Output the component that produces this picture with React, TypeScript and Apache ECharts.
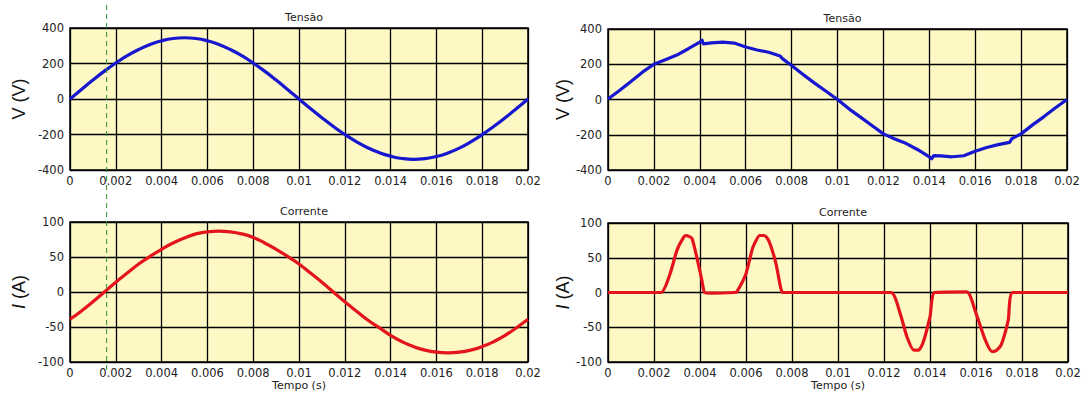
import React, { useEffect, useRef } from "react";
import * as echarts from "echarts";

// time samples for the left panels (s)
const tLeft = [
  0, 0.0005, 0.001, 0.0015, 0.002, 0.0025, 0.003, 0.0035, 0.004, 0.0045,
  0.005, 0.0055, 0.006, 0.0065, 0.007, 0.0075, 0.008, 0.0085, 0.009, 0.0095,
  0.01, 0.0105, 0.011, 0.0115, 0.012, 0.0125, 0.013, 0.0135, 0.014, 0.0145,
  0.015, 0.0155, 0.016, 0.0165, 0.017, 0.0175, 0.018, 0.0185, 0.019, 0.0195, 0.02,
];
// left: sinusoidal voltage (V)
const vLeft = [
  0, 54, 107, 157, 203, 244, 279, 307, 328, 341,
  345, 341, 328, 307, 279, 244, 203, 157, 107, 54,
  0, -54, -106, -155, -200, -240, -275, -302, -322, -335,
  -340, -336, -324, -304, -277, -242, -201, -155, -106, -54, 0,
];
// left: current (A)
const iLeft = [
  -39, -27, -14, 0, 14, 27, 40, 51, 61, 70,
  77, 83, 86, 87, 86, 83, 78, 70, 61, 51,
  40, 27, 14, 0, -14, -27, -40, -51, -62, -71,
  -78, -83, -86, -87, -86, -83, -78, -71, -62, -51, -39,
];
// right: distorted voltage [t, V]
const vRight = [
  [0, 3], [0.0005, 51], [0.001, 102], [0.0015, 155], [0.002, 200], [0.0025, 226],
  [0.003, 252], [0.0035, 288], [0.004, 326], [0.0041, 336], [0.00415, 316],
  [0.0045, 321], [0.005, 325], [0.0055, 320], [0.006, 298], [0.0065, 281],
  [0.007, 268], [0.0075, 247], [0.0076, 232], [0.008, 193], [0.0085, 142],
  [0.009, 93], [0.0095, 47], [0.01, 0], [0.0105, -53], [0.011, -100],
  [0.0115, -148], [0.012, -195], [0.0125, -224], [0.013, -250], [0.0135, -285],
  [0.014, -325], [0.0141, -336], [0.0142, -318], [0.0145, -320], [0.015, -325],
  [0.0155, -319], [0.016, -294], [0.0165, -272], [0.017, -256], [0.0175, -243],
  [0.0176, -222], [0.018, -195], [0.0185, -144], [0.019, -97], [0.0195, -47], [0.02, 0],
];
// right: pulsed current [t, A]
const iRight = [
  [0, 0], [0.0023, 0], [0.0027, 27], [0.003, 61], [0.0033, 80], [0.0034, 82],
  [0.0035, 81], [0.00365, 78], [0.00386, 51], [0.00408, 18], [0.0042, 0],
  [0.0045, -1], [0.0055, 0], [0.0056, 1], [0.006, 27], [0.0063, 65], [0.0066, 82],
  [0.0068, 82], [0.007, 74], [0.0073, 42], [0.0075, 8], [0.0076, 0], [0.0123, 0],
  [0.0127, -30], [0.013, -64], [0.0133, -83], [0.0135, -83], [0.0137, -72],
  [0.014, -35], [0.0142, 0], [0.0156, 1], [0.016, -30], [0.0164, -68],
  [0.0167, -85], [0.0169, -83], [0.0171, -75], [0.0174, -40], [0.0176, 0], [0.02, 0],
];
const markerTime = 0.0016;
const titles = ["Tensão", "Corrente", "Tensão", "Corrente"];
const xAxisName = "Tempo (s)";

const BG = "#fdf8c4";
const FONT = "'DejaVu Sans', Verdana, sans-serif";
const NAMEFONT = "Arial, 'Liberation Sans', sans-serif";

export default function App() {
  const ref = useRef<HTMLDivElement>(null);
  useEffect(() => {
    const chart = echarts.init(ref.current!, null, { renderer: "svg" });
    const grids = [
      { left: 70, top: 28, width: 458, height: 142 },
      { left: 70, top: 222, width: 458, height: 140 },
      { left: 608, top: 29, width: 459, height: 141 },
      { left: 608, top: 223, width: 460, height: 139 },
    ];
    const xAxes = grids.map((_, i) => ({
      type: "value",
      gridIndex: i,
      min: 0,
      max: 0.02,
      interval: 0.002,
      name: i % 2 === 1 ? xAxisName : "",
      nameLocation: "middle",
      nameGap: 17,
      nameTextStyle: { fontSize: 11, color: "#222", fontFamily: FONT },
      axisLine: { show: false },
      axisTick: { show: false },
      axisLabel: {
        fontSize: 11.5,
        color: "#222",
        fontFamily: FONT,
        margin: 5,
        formatter: (v: number) => String(+v.toFixed(3)),
      },
      splitLine: { show: true, lineStyle: { color: "#000", width: 1.3 } },
    }));
    const yAxes = grids.map((_, i) => {
      const isV = i % 2 === 0;
      return {
        type: "value",
        gridIndex: i,
        min: isV ? -400 : -100,
        max: isV ? 400 : 100,
        interval: isV ? 200 : 50,
        name: isV ? "V (V)" : "{i|I} (A)",
        nameLocation: "middle",
        nameGap: i < 2 ? 42 : 30,
        nameRotate: 90,
        nameTextStyle: {
          fontSize: 18,
          color: "#111",
          fontFamily: NAMEFONT,
          rich: { i: { fontSize: 18, fontStyle: "italic", color: "#111", fontFamily: NAMEFONT } },
        },
        axisLine: { show: false },
        axisTick: { show: false },
        axisLabel: { fontSize: 11.5, color: "#222", fontFamily: FONT, margin: 6 },
        splitLine: { show: true, lineStyle: { color: "#000", width: 1.3 } },
      };
    });
    const blue = "#1717cf";
    const red = "#e3141b";
    const option: any = {
      animation: false,
      backgroundColor: "#fff",
      title: titles.map((t, i) => ({
        text: t,
        left: grids[i].left + grids[i].width / 2,
        top: grids[i].top - 21,
        textAlign: "center",
        textStyle: { fontSize: 11, fontWeight: "normal", color: "#222", fontFamily: FONT },
      })),
      grid: grids.map((g) => ({
        ...g,
        show: true,
        backgroundColor: BG,
        borderColor: "#000",
        borderWidth: 1.5,
      })),
      xAxis: xAxes,
      yAxis: yAxes,
      series: [
        {
          type: "line", xAxisIndex: 0, yAxisIndex: 0, smooth: true, showSymbol: false,
          data: tLeft.map((t, k) => [t, vLeft[k]]),
          lineStyle: { color: blue, width: 3.2 },
        },
        {
          type: "line", xAxisIndex: 1, yAxisIndex: 1, smooth: true, showSymbol: false,
          data: tLeft.map((t, k) => [t, iLeft[k]]),
          lineStyle: { color: red, width: 3.2 },
        },
        {
          type: "line", xAxisIndex: 2, yAxisIndex: 2, showSymbol: false,
          data: vRight,
          lineStyle: { color: blue, width: 3.2, join: "round" },
        },
        {
          type: "line", xAxisIndex: 3, yAxisIndex: 3, smooth: 0.2, showSymbol: false,
          data: iRight,
          lineStyle: { color: red, width: 3.2 },
        },
      ],
    };
    chart.setOption(option);
    const p = chart.convertToPixel({ gridIndex: 0 }, [markerTime, 0]) as number[];
    chart.setOption({
      graphic: [
        {
          type: "line",
          shape: { x1: p[0], y1: 5, x2: p[0], y2: 372 },
          style: { stroke: "#2f8f2f", lineWidth: 1, lineDash: [5, 4] },
          z: 100,
        },
      ],
    });
    return () => chart.dispose();
  }, []);
  return (
    <div
      ref={ref}
      style={{ position: "fixed", left: 0, top: 0, width: 1086, height: 394 }}
    />
  );
}
